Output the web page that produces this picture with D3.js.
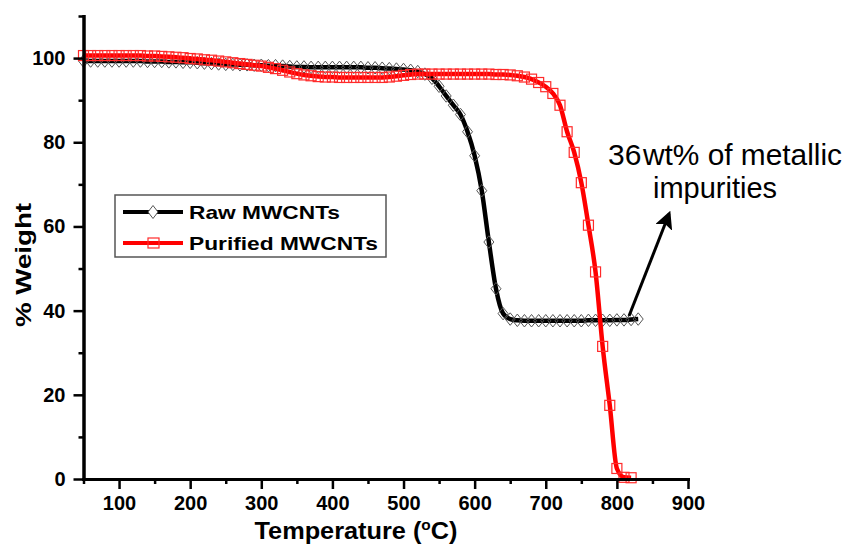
<!DOCTYPE html>
<html>
<head>
<meta charset="utf-8">
<script src="https://cdn.jsdelivr.net/npm/d3@7"></script>
<style>
  html, body { margin: 0; padding: 0; background: #fff; }
  svg { display: block; }
  text { font-family: "Liberation Sans", Arial, sans-serif; }
</style>
</head>
<body>
<svg id="chart" width="845" height="544"></svg>
<script>
// ---- Data ----
const temperature = [
  50, 60, 70, 80, 90,
  100, 110, 120, 130, 140, 150, 160, 170, 180, 190,
  200, 210, 220, 230, 240, 250, 260, 270, 280, 290,
  300, 310, 320, 330, 340, 350, 360, 370, 380, 390,
  400, 410, 420, 430, 440, 450, 460, 470, 480, 490,
  500, 510, 520, 530, 540, 550, 560, 570, 580, 590,
  600, 610, 620, 630, 640, 650, 660, 670, 680, 690,
  700, 710, 720, 730, 740, 750, 760, 770, 780, 790,
  800, 810, 820, 830
];
const rawWeight = [
  99.3, 99.3, 99.3, 99.3, 99.3,
  99.3, 99.3, 99.3, 99.3, 99.2, 99.2, 99.2, 99.1, 99.1, 99.0,
  99.0, 98.9, 98.8, 98.7, 98.6, 98.5, 98.5, 98.4, 98.4, 98.3,
  98.3, 98.2, 98.2, 98.1, 98.0, 97.9, 97.9, 97.8, 97.8, 97.8,
  97.8, 97.8, 97.8, 97.8, 97.8, 97.7, 97.7, 97.6, 97.5, 97.4,
  97.3, 97.1, 96.8, 96.2, 95.2, 93.3, 91.0, 88.8, 86.6, 82.5,
  76.8, 68.5, 56.3, 45.2, 39.3, 38.0, 37.7, 37.6, 37.6, 37.6,
  37.6, 37.6, 37.6, 37.6, 37.6, 37.6, 37.7, 37.7, 37.7, 37.7,
  37.8, 37.8, 37.9, 38.0
];
const purifiedWeight = [
  100.6, 100.6, 100.6, 100.6, 100.6,
  100.6, 100.6, 100.6, 100.6, 100.5, 100.5, 100.4, 100.3, 100.2, 100.1,
  99.9, 99.8, 99.6, 99.5, 99.3, 99.1, 98.9, 98.7, 98.5, 98.3,
  98.1, 97.8, 97.5, 97.1, 96.7, 96.3, 96.0, 95.8, 95.6, 95.5,
  95.5, 95.4, 95.4, 95.4, 95.4, 95.4, 95.4, 95.4, 95.5, 95.7,
  95.9, 96.1, 96.2, 96.2, 96.2, 96.2, 96.2, 96.2, 96.2, 96.2,
  96.2, 96.2, 96.2, 96.1, 96.1, 96.0, 95.8, 95.5, 95.0, 94.2,
  93.2, 91.6, 88.8, 82.5, 77.6, 70.4, 60.3, 49.2, 31.5, 17.5,
  2.5, 0.4, 0.3
];
const seriesNames = ["Raw MWCNTs", "Purified MWCNTs"];
const xMajorTicks = [100, 200, 300, 400, 500, 600, 700, 800, 900];
const xMinorTicks = [50, 150, 250, 350, 450, 550, 650, 750, 850];
const yMajorTicks = [0, 20, 40, 60, 80, 100];
const yMinorTicks = [10, 30, 50, 70, 90, 110];
const annotationLines = ["36", "wt% of metallic", "impurities"];

// ---- Layout ----
const svg = d3.select("#chart");
const x = d3.scaleLinear().domain([50, 900]).range([83.5, 688]);
const y = d3.scaleLinear().domain([0, 110]).range([479, 16]);

const rawData = temperature.map((t, i) => ({ t, w: rawWeight[i] }));
const purData = purifiedWeight.map((w, i) => ({ t: temperature[i], w }));

const line = d3.line().x(d => x(d.t)).y(d => y(d.w)).curve(d3.curveMonotoneX);

const diamond = (w, h) => `M0,${-h/2}L${w/2},0L0,${h/2}L${-w/2},0Z`;

// Raw series
svg.append("path").datum(rawData)
  .attr("d", line).attr("fill", "none")
  .attr("stroke", "#000").attr("stroke-width", 4.5).attr("stroke-linejoin", "round");
svg.append("g").selectAll("path").data(rawData).join("path")
  .attr("transform", d => `translate(${x(d.t)},${y(d.w)})`)
  .attr("d", diamond(10, 12.5))
  .attr("fill", "none").attr("stroke", "#555").attr("stroke-width", 1);

// Purified series
svg.append("path").datum(purData)
  .attr("d", line).attr("fill", "none")
  .attr("stroke", "#ff0000").attr("stroke-width", 4.5).attr("stroke-linejoin", "round");
svg.append("g").selectAll("rect").data(purData).join("rect")
  .attr("x", d => x(d.t) - 5).attr("y", d => y(d.w) - 5)
  .attr("width", 10).attr("height", 10)
  .attr("fill", "none").attr("stroke", "#ff2a2a").attr("stroke-width", 1.2);

// ---- Axes ----
const xAxis = svg.append("g").attr("transform", `translate(0,${y(0)})`)
  .call(d3.axisBottom(x).tickValues(xMajorTicks).tickSize(10).tickPadding(7).tickSizeOuter(0));
const xMinor = svg.append("g").attr("transform", `translate(0,${y(0)})`)
  .call(d3.axisBottom(x).tickValues(xMinorTicks).tickSize(5).tickFormat("").tickSizeOuter(0));
const yAxis = svg.append("g").attr("transform", `translate(${x(50)},0)`)
  .call(d3.axisLeft(y).tickValues(yMajorTicks).tickSize(10).tickPadding(8).tickSizeOuter(0));
const yMinor = svg.append("g").attr("transform", `translate(${x(50)},0)`)
  .call(d3.axisLeft(y).tickValues(yMinorTicks).tickSize(5).tickFormat("").tickSizeOuter(0));

[xAxis, xMinor, yAxis, yMinor].forEach(g => {
  g.select(".domain").attr("stroke", "#000").attr("stroke-width", 3).attr("stroke-linecap", "square");
  g.selectAll(".tick line").attr("stroke", "#000").attr("stroke-width", 2.5);
  g.selectAll(".tick text")
    .attr("font-family", "'Liberation Sans', Arial, sans-serif")
    .attr("font-size", 20).attr("font-weight", "bold").attr("fill", "#000");
});

// Axis titles
svg.append("text")
  .attr("transform", "translate(31,265) rotate(-90)")
  .attr("text-anchor", "middle")
  .attr("font-size", 22).attr("font-weight", "bold")
  .attr("textLength", 124).attr("lengthAdjust", "spacingAndGlyphs")
  .text("% Weight");
const xt = svg.append("text")
  .attr("x", 356).attr("y", 539)
  .attr("text-anchor", "middle")
  .attr("font-size", 23).attr("font-weight", "bold")
  .attr("textLength", 203).attr("lengthAdjust", "spacingAndGlyphs");
xt.append("tspan").text("Temperature (");
xt.append("tspan").attr("font-size", 14).attr("dy", -9).text("o");
xt.append("tspan").attr("dy", 9).text("C)");

// ---- Legend ----
const lg = svg.append("g");
lg.append("rect").attr("x", 115).attr("y", 195).attr("width", 271).attr("height", 62)
  .attr("fill", "#fff").attr("stroke", "#555").attr("stroke-width", 1.5);
const legendItems = [
  { name: seriesNames[0], color: "#000", ly: 212, len: 151 },
  { name: seriesNames[1], color: "#ff0000", ly: 243, len: 189 }
];
legendItems.forEach((it, i) => {
  lg.append("line").attr("x1", 123).attr("x2", 183).attr("y1", it.ly).attr("y2", it.ly)
    .attr("stroke", it.color).attr("stroke-width", 4);
  if (i === 0) {
    lg.append("path").attr("transform", `translate(153,${it.ly})`)
      .attr("d", diamond(10, 13)).attr("fill", "#fff").attr("stroke", "#555").attr("stroke-width", 1);
  } else {
    lg.append("rect").attr("x", 148).attr("y", it.ly - 5).attr("width", 11).attr("height", 10)
      .attr("fill", "none").attr("stroke", "#ff2a2a").attr("stroke-width", 1.2);
  }
  lg.append("text").attr("x", 189).attr("y", it.ly + 6.5)
    .attr("font-size", 18.5).attr("font-weight", "bold")
    .attr("textLength", it.len).attr("lengthAdjust", "spacingAndGlyphs")
    .text(it.name);
});

// ---- Annotation ----
svg.append("text").attr("x", 608).attr("y", 165).attr("font-size", 30).text(annotationLines[0]);
svg.append("text").attr("x", 643).attr("y", 165).attr("font-size", 30)
  .attr("textLength", 199).attr("lengthAdjust", "spacingAndGlyphs").text(annotationLines[1]);
svg.append("text").attr("x", 653).attr("y", 198).attr("font-size", 30)
  .attr("textLength", 124).attr("lengthAdjust", "spacingAndGlyphs").text(annotationLines[2]);

const defs = svg.append("defs");
defs.append("marker").attr("id", "arrow")
  .attr("viewBox", "0 0 10 10").attr("refX", 8).attr("refY", 5)
  .attr("markerWidth", 6).attr("markerHeight", 6).attr("orient", "auto")
  .append("path").attr("d", "M0,0L10,5L0,10L2,5Z").attr("fill", "#000");
svg.append("line")
  .attr("x1", 629).attr("y1", 316).attr("x2", 669).attr("y2", 214)
  .attr("stroke", "#000").attr("stroke-width", 3)
  .attr("marker-end", "url(#arrow)");
</script>
</body>
</html>
